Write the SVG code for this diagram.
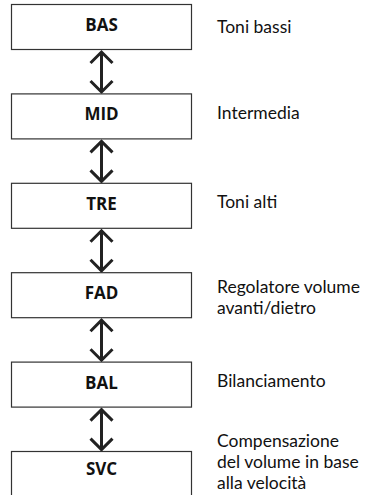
<svg xmlns="http://www.w3.org/2000/svg" width="377" height="495" viewBox="0 0 377 495">
<defs>
<style>
.box{fill:#fff;stroke:#333;stroke-width:1.2}
.bt{font-family:"Open Sans","Noto Sans",sans-serif;font-weight:bold;font-size:17px;fill:#111;text-anchor:middle}
.lt{font-family:Lato,"Open Sans",sans-serif;font-size:17.5px;fill:#111}
.arr{fill:none;stroke:#222;stroke-width:3}
</style>
</defs>
<rect width="377" height="495" fill="#fff"/>
<g id="connectors">
<g id="a1" transform="translate(101.5,0)"><path class="arr" d="M0,52V92M-11,63L0,52L11,63M-11,81L0,92L11,81"/></g>
<g id="a2" transform="translate(101.5,89.4)"><path class="arr" d="M0,52V92M-11,63L0,52L11,63M-11,81L0,92L11,81"/></g>
<g id="a3" transform="translate(101.5,178.8)"><path class="arr" d="M0,52V92M-11,63L0,52L11,63M-11,81L0,92L11,81"/></g>
<g id="a4" transform="translate(101.5,268.2)"><path class="arr" d="M0,52V92M-11,63L0,52L11,63M-11,81L0,92L11,81"/></g>
<g id="a5" transform="translate(101.5,357.6)"><path class="arr" d="M0,52V92M-11,63L0,52L11,63M-11,81L0,92L11,81"/></g>
</g>
<g id="bas"><rect class="box" x="11.5" y="4.5" width="180" height="45"/><text class="bt" x="101.5" y="31">BAS</text></g>
<g id="mid"><rect class="box" x="11.5" y="93.9" width="180" height="45"/><text class="bt" x="101.5" y="120.4">MID</text></g>
<g id="tre"><rect class="box" x="11.5" y="183.3" width="180" height="45"/><text class="bt" x="101.5" y="209.8">TRE</text></g>
<g id="fad"><rect class="box" x="11.5" y="272.7" width="180" height="45"/><text class="bt" x="101.5" y="299.2">FAD</text></g>
<g id="bal"><rect class="box" x="11.5" y="362.1" width="180" height="45"/><text class="bt" x="101.5" y="388.6">BAL</text></g>
<g id="svc"><rect class="box" x="11.5" y="451.5" width="180" height="60"/><text class="bt" x="101.5" y="475">SVC</text></g>
<g id="labels">
<text class="lt" x="217" y="33">Toni bassi</text>
<text class="lt" x="217" y="118.5">Intermedia</text>
<text class="lt" x="217" y="208">Toni alti</text>
<text class="lt" x="217" y="292.5">Regolatore volume</text>
<text class="lt" x="217" y="313.5">avanti/dietro</text>
<text class="lt" x="217" y="447">Compensazione</text>
<text class="lt" x="217" y="468">del volume in base</text>
<text class="lt" x="217" y="489">alla velocità</text>
<text class="lt" x="217" y="387">Bilanciamento</text>
</g>
</svg>
